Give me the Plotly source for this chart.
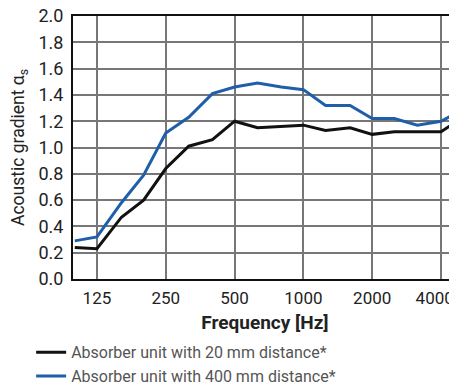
import math
import plotly.graph_objects as go

freqs = [100, 125, 160, 200, 250, 315, 400, 500, 630, 800, 1000, 1250, 1600, 2000, 2500, 3150, 4000, 5000]
alpha_20mm = [0.24, 0.23, 0.47, 0.60, 0.84, 1.01, 1.06, 1.20, 1.15, 1.16, 1.17, 1.13, 1.15, 1.10, 1.12, 1.12, 1.12, 1.23]
alpha_400mm = [0.29, 0.32, 0.58, 0.79, 1.11, 1.23, 1.41, 1.46, 1.49, 1.46, 1.44, 1.32, 1.32, 1.22, 1.22, 1.17, 1.20, 1.29]
tick_vals = [125, 250, 500, 1000, 2000, 4000]
tick_text = ["125", "250", "500", "1000", "2000", "4000\u00a0\u00a0\u00a0"]
y_ticks = [0.0, 0.2, 0.4, 0.6, 0.8, 1.0, 1.2, 1.4, 1.6, 1.8, 2.0]

font_family = "Roboto, Arial, sans-serif"

fig = go.Figure()
fig.add_trace(go.Scatter(x=freqs, y=alpha_20mm, mode="lines",
                         name="Absorber unit with 20 mm distance*",
                         line=dict(color="#111111", width=3)))
fig.add_trace(go.Scatter(x=freqs, y=alpha_400mm, mode="lines",
                         name="Absorber unit with 400 mm distance*",
                         line=dict(color="#1f5ea8", width=3)))

log2 = math.log10(2)
x0 = math.log10(125) - 24 / 69 * log2
x1 = math.log10(4000) + 16 / 69 * log2

# page body has an 8px margin; figure is sized to fit the 457x386 window
fig.update_layout(
    width=449, height=378,
    margin=dict(l=65, r=0, t=8, b=107, autoexpand=False),
    paper_bgcolor="white", plot_bgcolor="white",
    font=dict(family=font_family, color="#222222"),
    showlegend=True,
    legend=dict(x=-0.109, y=-0.214, xanchor="left", yanchor="top",
                font=dict(size=16, color="#555555"),
                bgcolor="rgba(0,0,0,0)", tracegroupgap=0,
                itemwidth=30),
    xaxis=dict(type="log", range=[x0, x1], automargin=False,
               tickvals=tick_vals, ticktext=tick_text,
               tickfont=dict(size=17, color="#222222"),
               ticklabeloverflow="allow", ticklabelstandoff=3,
               showgrid=True, gridcolor="#777777", gridwidth=1.5,
               showline=True, linecolor="#111111", linewidth=2, mirror=True,
               ticks="", zeroline=False,
               title=dict(text="<b>Frequency [Hz]</b>", font=dict(size=19, color="#222222"),
                          standoff=8)),
    yaxis=dict(range=[0, 2.0], tickvals=y_ticks, tickformat=".1f", automargin=False,
               tickfont=dict(size=18, color="#222222"),
               ticklabeloverflow="allow",
               showgrid=True, gridcolor="#777777", gridwidth=1.5,
               showline=True, linecolor="#111111", linewidth=2,
               ticks="", zeroline=False, ticklabelstandoff=4,
               title=dict(text="Acoustic gradient α<sub>s</sub>", font=dict(size=17.5, color="#222222"),
                          standoff=13)),
)

fig.write_html("out.html")
